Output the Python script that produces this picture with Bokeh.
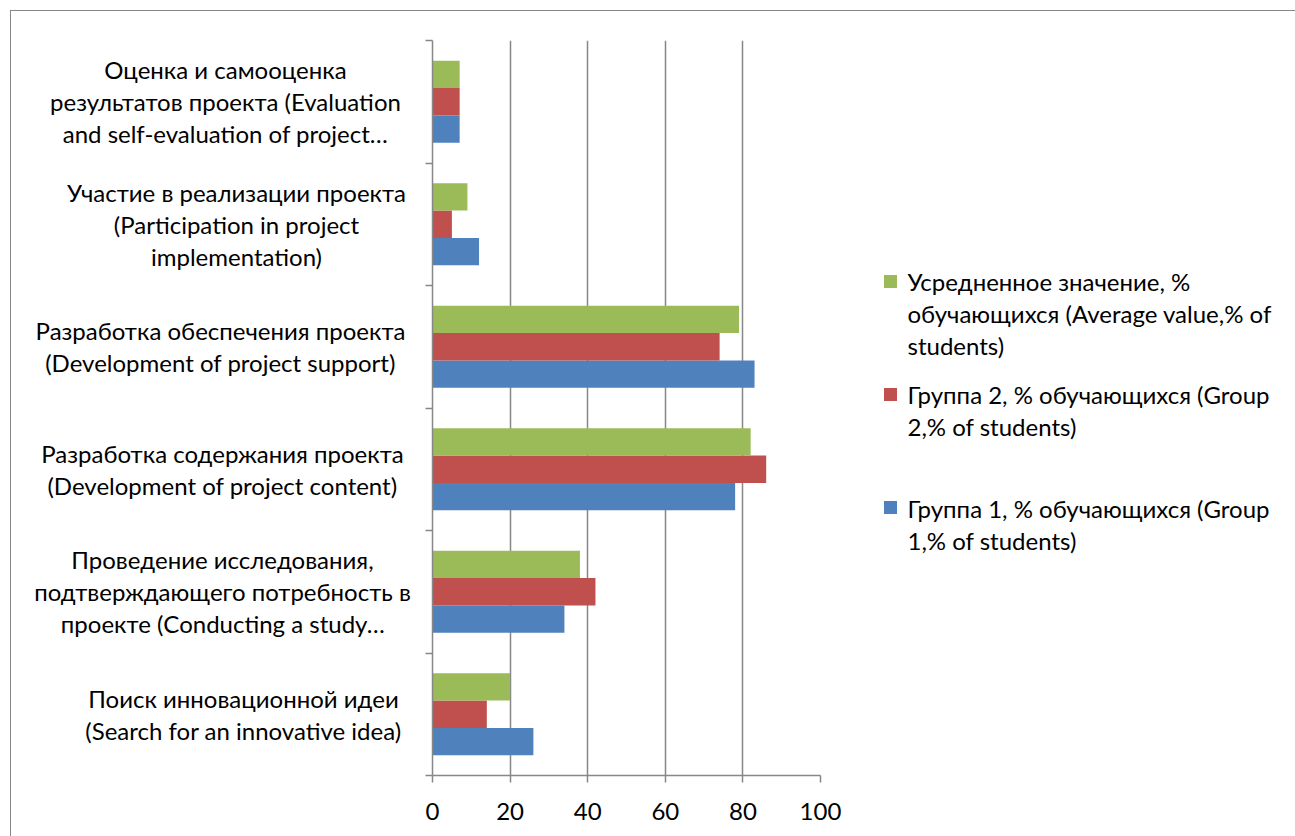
from bokeh.plotting import figure
from bokeh.layouts import row
from bokeh.models import Range1d, FixedTicker
from bokeh.core.properties import value
from bokeh.embed import file_html
from bokeh.resources import INLINE

# ---- data (bottom to top) ----
categories = [
    "Поиск инновационной идеи\n(Search for an innovative idea)",
    "Проведение исследования,\nподтверждающего потребность в\nпроекте (Conducting a study…",
    "Разработка содержания проекта\n(Development of project content)",
    "Разработка обеспечения проекта\n(Development of project support)",
    "Участие в реализации проекта\n(Participation in project\nimplementation)",
    "Оценка и самооценка\nрезультатов проекта (Evaluation\nand self-evaluation of project…",
]
group1 = [26, 34, 78, 83, 12, 7]
group2 = [14, 42, 86, 74, 5, 7]
average = [20, 38, 82, 79, 9, 7]
x_ticks = [0, 20, 40, 60, 80, 100]
legend_labels = [
    "Усредненное значение, %\nобучающихся (Average value,% of\nstudents)",
    "Группа 2, % обучающихся (Group\n2,% of students)",
    "Группа 1, % обучающихся (Group\n1,% of students)",
]

# ---- style ----
FONT = "Lato"
FS = "24px"
LH = 1.11
GRAY = "#878787"
C1, C2, C3 = "#4F81BD", "#C0504D", "#9BBB59"
legend_colors = [C3, C2, C1]
BAR_H = 0.223
label_centers_px = [243, 222, 222, 220, 236, 225]   # page-x centre of each category label block
legend_square_y = [281, 394, 507]                    # page-y of legend squares
legend_text_y = [313, 410, 524]                      # page-y of legend text block centres
OFF = 11            # outer border offset
FRAME_T, FRAME_B = 40, 775
TOP = FRAME_T - OFF
FRAME_H = FRAME_B - FRAME_T
BOTTOM = 836 - OFF - TOP - FRAME_H
AXIS_GAP = 10
LEFT_W = 432 - OFF - AXIS_GAP
FRAME_W = 388
RIGHT_GAP = 40
LEG_X0 = 432 + FRAME_W + RIGHT_GAP
LEG_W = 1295 - LEG_X0

n = len(categories)
centers = [i + 0.5 for i in range(n)]
yr = Range1d(0, n)

# ---- left panel with category labels ----
lab = figure(frame_width=LEFT_W, frame_height=FRAME_H,
             min_border_left=0, min_border_right=0,
             min_border_top=TOP, min_border_bottom=BOTTOM,
             x_range=Range1d(OFF, OFF + LEFT_W), y_range=yr,
             x_axis_type=None, y_axis_type=None,
             output_backend="svg", toolbar_location=None)
lab.grid.visible = False
lab.outline_line_color = None
lab.text(x=label_centers_px, y=centers, text=categories,
         text_align="center", text_baseline="middle",
         text_font=value(FONT), text_font_size=FS, text_color="black",
         text_line_height=LH)

# ---- main chart ----
p = figure(frame_width=FRAME_W, frame_height=FRAME_H,
           min_border_left=AXIS_GAP, min_border_right=RIGHT_GAP,
           min_border_top=TOP, min_border_bottom=BOTTOM,
           x_range=Range1d(0, 100), y_range=yr,
           output_backend="svg", toolbar_location=None)
p.outline_line_color = None

p.hbar(y=[c - BAR_H for c in centers], left=0, right=group1, height=BAR_H,
       fill_color=C1, line_color=None)
p.hbar(y=centers, left=0, right=group2, height=BAR_H,
       fill_color=C2, line_color=None)
p.hbar(y=[c + BAR_H for c in centers], left=0, right=average, height=BAR_H,
       fill_color=C3, line_color=None)

p.xaxis.ticker = FixedTicker(ticks=x_ticks)
p.xaxis.axis_line_color = GRAY
p.xaxis.axis_line_width = 1.5
p.xaxis.major_tick_line_color = GRAY
p.xaxis.major_tick_line_width = 1.5
p.xaxis.major_tick_in = 0
p.xaxis.major_tick_out = 7
p.xaxis.minor_tick_line_color = None
p.xaxis.major_label_text_font = FONT
p.xaxis.major_label_text_font_size = FS
p.xaxis.major_label_text_color = "black"
p.xaxis.major_label_standoff = 20

p.yaxis.ticker = FixedTicker(ticks=list(range(n + 1)))
p.yaxis.major_label_overrides = {i: "" for i in range(n + 1)}
p.yaxis.major_label_standoff = 0
p.yaxis.axis_line_color = GRAY
p.yaxis.axis_line_width = 1.5
p.yaxis.major_tick_line_color = GRAY
p.yaxis.major_tick_line_width = 1.5
p.yaxis.major_tick_in = 0
p.yaxis.major_tick_out = 7
p.yaxis.minor_tick_line_color = None

p.xgrid.ticker = FixedTicker(ticks=x_ticks)
p.xgrid.grid_line_color = GRAY
p.xgrid.grid_line_width = 1.5
p.ygrid.grid_line_color = None

# ---- legend panel (same vertical frame as the chart, page-pixel ranges) ----
leg = figure(frame_width=LEG_W, frame_height=FRAME_H,
             min_border_left=0, min_border_right=0,
             min_border_top=TOP, min_border_bottom=BOTTOM,
             x_range=Range1d(LEG_X0, LEG_X0 + LEG_W),
             y_range=Range1d(FRAME_B, FRAME_T),
             x_axis_type=None, y_axis_type=None,
             output_backend="svg", toolbar_location=None)
leg.grid.visible = False
leg.outline_line_color = None
leg.rect(x=890, y=legend_square_y, width=13, height=13,
         fill_color=legend_colors, line_color=None)
leg.text(x=907, y=legend_text_y, text=legend_labels,
         text_align="left", text_baseline="middle",
         text_font=value(FONT), text_font_size=FS, text_color="black",
         text_line_height=LH)

layout = row(lab, p, leg, margin=(10, 0, 0, 10),
             styles={"border-top": "1px solid #878787",
                     "border-left": "1px solid #878787"})

open("out.html", "w").write(file_html(layout, INLINE))
